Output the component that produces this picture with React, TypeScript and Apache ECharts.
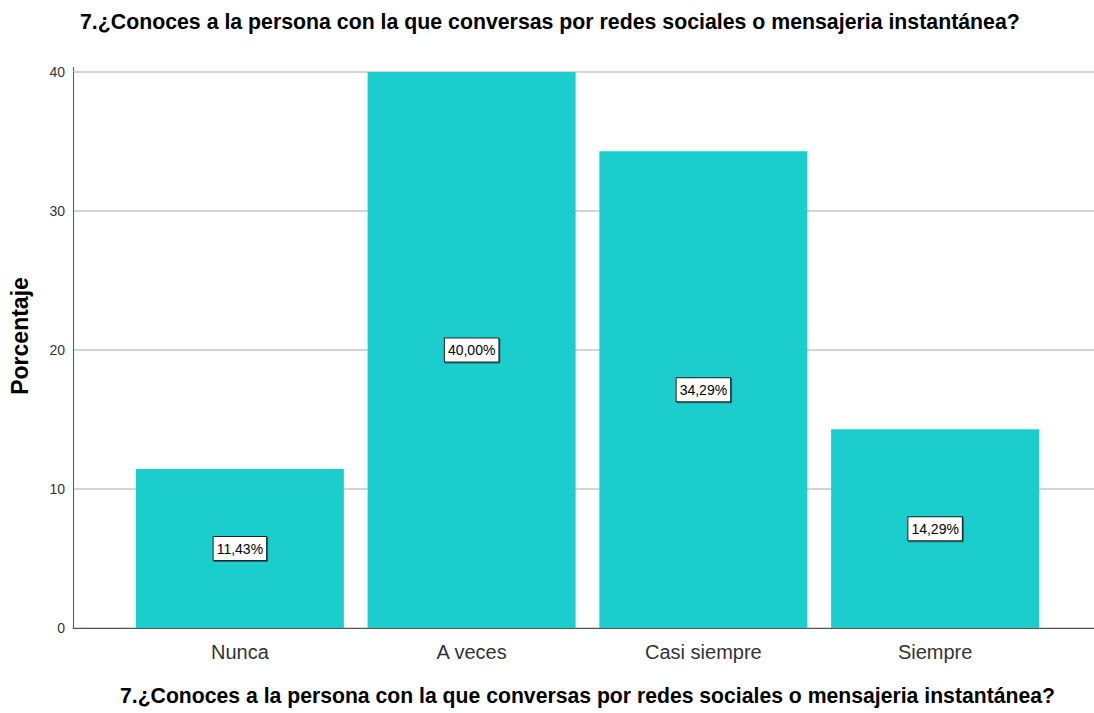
import React, { useEffect, useRef } from "react";
import * as echarts from "echarts";

const titleText = "7.¿Conoces a la persona con la que conversas por redes sociales o mensajeria instantánea?";
const categories = ["Nunca", "A veces", "Casi siempre", "Siempre"];
const percentages = [11.43, 40.0, 34.29, 14.29];
const yTicks = [0, 10, 20, 30, 40];
const yAxisName = "Porcentaje";

const FONT = 'Arial, "Liberation Sans", Helvetica, sans-serif';

export default function App() {
  const ref = useRef<HTMLDivElement>(null);
  useEffect(() => {
    if (!ref.current) return;
    const chart = echarts.init(ref.current, null, { renderer: "svg" });
    const yMin = yTicks[0];
    const yMax = yTicks[yTicks.length - 1];
    const yInterval = yTicks[1] - yTicks[0];
    chart.setOption({
      animation: false,
      backgroundColor: "#ffffff",
      textStyle: { fontFamily: FONT },
      title: [
        {
          text: titleText,
          left: 80,
          top: 11,
          padding: 0,
          textStyle: { fontFamily: FONT, fontSize: 21.3, fontWeight: "bold", color: "#000" },
        },
        {
          text: titleText,
          left: 120,
          top: 685,
          padding: 0,
          textStyle: { fontFamily: FONT, fontSize: 21.2, fontWeight: "bold", color: "#000" },
        },
      ],
      grid: [
        { left: 73, right: 0, top: 72, bottom: 85 },
        { left: 124, right: 43, top: 72, bottom: 85 },
      ],
      xAxis: [
        {
          gridIndex: 0,
          type: "value",
          min: 0,
          max: 1,
          axisLine: { show: true, lineStyle: { color: "#555", width: 1 } },
          axisTick: { show: false },
          axisLabel: { show: false },
          splitLine: { show: false },
        },
        {
          gridIndex: 1,
          type: "category",
          data: categories,
          axisLine: { show: false },
          axisTick: { show: false },
          axisLabel: { fontFamily: FONT, fontSize: 20, color: "#333", margin: 14 },
          splitLine: { show: false },
        },
      ],
      yAxis: [
        {
          gridIndex: 0,
          type: "value",
          min: yMin,
          max: yMax,
          interval: yInterval,
          axisLine: { show: true, lineStyle: { color: "#555", width: 1 } },
          axisTick: { show: false },
          axisLabel: { fontFamily: FONT, fontSize: 14, color: "#333", margin: 8 },
          splitLine: { show: true, lineStyle: { color: "#d4d4d4", width: 2 } },
        },
        {
          gridIndex: 1,
          type: "value",
          min: yMin,
          max: yMax,
          interval: yInterval,
          show: false,
          splitLine: { show: false },
        },
      ],
      graphic: [
        {
          type: "line",
          shape: { x1: 73.5, y1: 67, x2: 73.5, y2: 72 },
          style: { stroke: "#555", lineWidth: 1 },
        },
        {
          type: "text",
          x: 20,
          y: 336,
          rotation: Math.PI / 2,
          style: {
            text: yAxisName,
            fontFamily: FONT,
            fontSize: 23,
            fontWeight: "bold",
            fill: "#000",
            align: "center",
            verticalAlign: "middle",
          },
        },
      ],
      series: [
        {
          type: "bar",
          xAxisIndex: 1,
          yAxisIndex: 1,
          data: percentages,
          barWidth: 208,
          itemStyle: { color: "#1ccdcd" },
          label: {
            show: true,
            position: "inside",
            formatter: (p: any) => p.value.toFixed(2).replace(".", ",") + "%",
            fontFamily: FONT,
            fontSize: 14,
            color: "#000",
            backgroundColor: "#ffffff",
            borderColor: "#222",
            borderWidth: 1,
            padding: [5, 3, 4, 3],
            shadowColor: "rgba(0,0,0,0.45)",
            shadowOffsetX: 1,
            shadowOffsetY: 1,
          },
        },
      ],
    });
    return () => chart.dispose();
  }, []);
  return (
    <div
      ref={ref}
      style={{ position: "fixed", left: 0, top: 0, width: 1094, height: 713, background: "#fff" }}
    />
  );
}
